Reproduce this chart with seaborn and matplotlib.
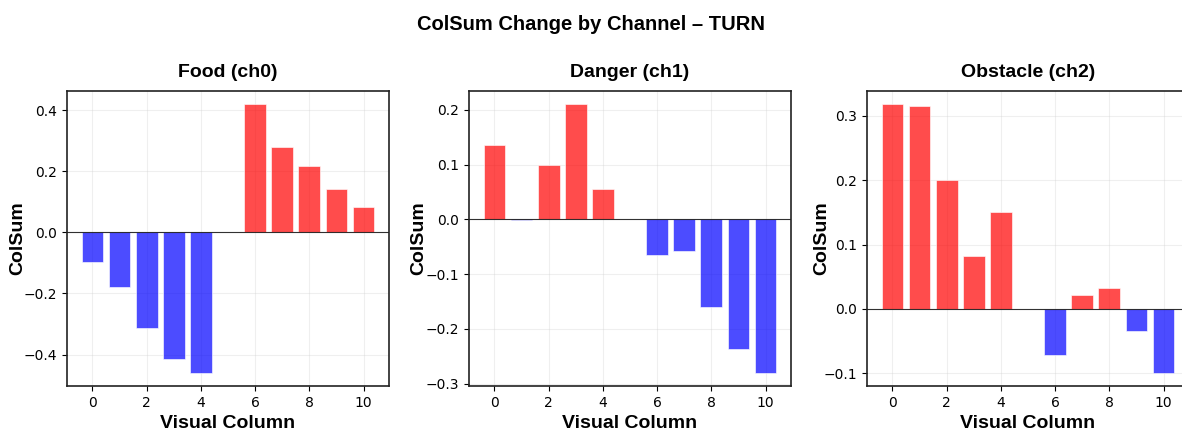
import matplotlib
matplotlib.use("Agg")
import matplotlib.pyplot as plt
import seaborn as sns
import pandas as pd
import numpy as np

columns = list(range(11))
food = [-0.097, -0.178, -0.313, -0.413, -0.459, 0.0, 0.419, 0.281, 0.217, 0.142, 0.082]
danger = [0.135, -0.002, 0.100, 0.210, 0.055, 0.0, -0.065, -0.057, -0.160, -0.236, -0.280]
obstacle = [0.318, 0.316, 0.200, 0.083, 0.150, 0.0, -0.072, 0.021, 0.032, -0.034, -0.099]

titles = ["Food (ch0)", "Danger (ch1)", "Obstacle (ch2)"]
series = [food, danger, obstacle]
suptitle = "ColSum Change by Channel \u2013 TURN"

sns.set_style("ticks")
plt.rcParams["font.family"] = ["Liberation Sans", "DejaVu Sans"]
plt.rcParams.update({"text.color": "black", "axes.labelcolor": "black",
                     "xtick.color": "black", "ytick.color": "black"})

fig = plt.figure(figsize=(11.82, 4.33), dpi=100)
W, H = 1182, 433
lefts = [67, 469, 867]
label_x = [-0.127, -0.13, -0.115]
ax_w, ax_top, ax_bot = 322, 91, 386

tick_font = ["DejaVu Sans"]

for left, lx, title, vals in zip(lefts, label_x, titles, series):
    ax = fig.add_axes([left / W, (H - ax_bot) / H, ax_w / W, (ax_bot - ax_top) / H])
    df = pd.DataFrame({"col": columns, "val": vals})
    df["sign"] = np.where(df["val"] > 0, "pos", "neg")
    sns.barplot(data=df, x="col", y="val", hue="sign",
                palette={"pos": "red", "neg": "blue"}, alpha=0.7, saturation=1,
                native_scale=True, width=0.8, dodge=False,
                edgecolor="white", linewidth=0.6, legend=False, ax=ax)
    ax.axhline(0, color="black", linewidth=0.8, alpha=0.8)
    ax.grid(True, alpha=0.3)
    ax.set_axisbelow(True)
    ax.set_xticks([0, 2, 4, 6, 8, 10])
    ax.set_xlim(-0.94, 10.94)
    ax.set_title(title, fontsize=14, fontweight="bold", pad=10)
    ax.set_xlabel("Visual Column", fontsize=14, fontweight="bold")
    ax.set_ylabel("ColSum", fontsize=14, fontweight="bold")
    ax.yaxis.set_label_coords(lx, 0.5)
    for lab in ax.get_xticklabels() + ax.get_yticklabels():
        lab.set_fontfamily(tick_font)
        lab.set_fontsize(10)
    for sp in ax.spines.values():
        sp.set_linewidth(1.2)
        sp.set_color("#222222")

fig.suptitle(suptitle, fontsize=14.5, fontweight="bold", y=0.965)
fig.savefig("out.png", dpi=100)
